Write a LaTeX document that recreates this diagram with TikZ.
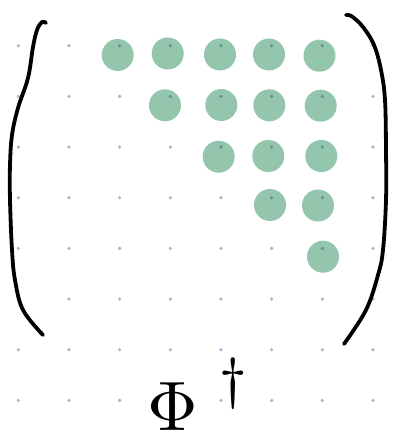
\documentclass[tikz,border=0pt]{standalone}
\definecolor{dotc}{HTML}{A9B7D6}
\definecolor{greenc}{HTML}{94C5AD}
\definecolor{dotdark}{HTML}{5E978A}
\tikzset{
  entry/.style={circle, fill=greenc, minimum size=32pt, inner sep=0pt},
  paren/.style={line width=3.8pt, line cap=round, line join=round}
}
\begin{document}
\begin{tikzpicture}[x=1pt,y=-1pt]
\useasboundingbox (0,0) rectangle (393,441);
\fill[white] (0,0) rectangle (393,441);
% grid dots
\foreach \i in {0,...,7}
  \foreach \j in {0,...,7}
    \fill[dotc] (18.3+50.67*\i, 45.7+50.67*\j) circle (1.8pt);
% green entries
\node[entry] (a11) at (117.7,55) {};
\node[entry] (a12) at (167.7,53.5) {};
\node[entry] (a13) at (220,54.5) {};
\node[entry] (a14) at (269,54.5) {};
\node[entry] (a15) at (319.5,55.7) {};
\node[entry] (a22) at (165,105.3) {};
\node[entry] (a23) at (221.3,105) {};
\node[entry] (a24) at (269.3,105.3) {};
\node[entry] (a25) at (320.7,105.7) {};
\node[entry] (a33) at (218.7,156.7) {};
\node[entry] (a34) at (268.3,156) {};
\node[entry] (a35) at (321.3,156) {};
\node[entry] (a44) at (270,205) {};
\node[entry] (a45) at (318,205.5) {};
\node[entry] (a55) at (323,256.7) {};
% darker dots on entries
\foreach \x/\y in {119.7/45.7,170.3/45.7,221/45.7,271.6/45.7,322.3/45.7,
                   170.3/96.4,221/96.4,271.6/96.4,322.3/96.4,
                   221/147,271.6/147,322.3/147,
                   271.6/197.7,322.3/197.7,
                   322.3/248.4}
  \fill[dotdark] (\x,\y) circle (1.8pt);
% parentheses
\draw[paren] plot[smooth, tension=0.6] coordinates {(46,23) (42,22) (37,30) (33,47) (28,78) (18,108) (12,135) (10,165) (10,200) (12,250) (15,280) (23,310) (43,335)};
\draw[paren] plot[smooth, tension=0.6] coordinates {(346,15) (352,16.5) (363,27) (374,45) (381,70) (385,100) (386,150) (386,200) (383,250) (378,275) (366,310) (344,344)};
% label
\node[anchor=base west, inner sep=0pt] (lbl) at (147,430) {\scalebox{7}{$\Phi$\kern0.3em\raisebox{0.46em}{\scalebox{1.15}{$\scriptstyle\dagger$}}}};
\end{tikzpicture}
\end{document}
